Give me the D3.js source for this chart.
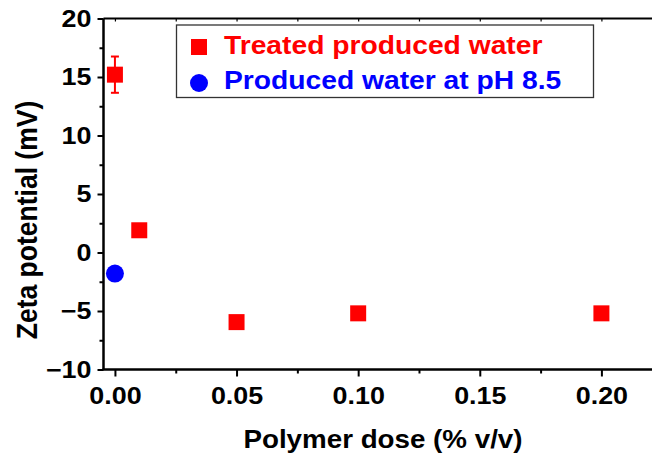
<!DOCTYPE html>
<html>
<head>
<meta charset="utf-8">
<script src="https://cdn.jsdelivr.net/npm/d3@7"></script>
<style>
  html, body { margin: 0; padding: 0; background: #fff; }
  svg { display: block; }
  text { font-family: Arial, "Liberation Sans", sans-serif; font-weight: bold; }
</style>
</head>
<body>
<svg id="chart" width="652" height="459"></svg>
<script>
// Zeta potential of treated produced water versus polymer dose
const treatedDose = [0, 0.01, 0.05, 0.10, 0.20];
const treatedZeta = [15.2, 1.9, -5.95, -5.2, -5.2];
const treatedErr  = [1.55, 0, 0, 0, 0];

const rawDose = [0];
const rawZeta = [-1.8];

const xMajorTicks = [0, 0.05, 0.10, 0.15, 0.20];
const xMinorTicks = [0.025, 0.075, 0.125, 0.175, 0.225];
const yMajorTicks = [-10, -5, 0, 5, 10, 15, 20];
const yMinorTicks = [-7.5, -2.5, 2.5, 7.5, 12.5, 17.5];

const legendLabels = ["Treated produced water", "Produced water at pH 8.5"];

const svg = d3.select("#chart");
const W = 652;

const x = d3.scaleLinear().domain([-0.0047, 0.2208]).range([103.5, 652]);
const y = d3.scaleLinear().domain([-10, 20]).range([369.5, 18.5]);

const fs = 24;      // tick label size
const wide = 1.12;  // horizontal widening of the bold lettering

// widen a text element horizontally around its anchor point (ax, ay)
function widen(sel, ax, ay, k) {
  sel.attr("transform", `translate(${ax},${ay}) scale(${k},1) translate(${-ax},${-ay})`);
}

// bottom axis: major ticks with labels
const xAxis = svg.append("g").attr("transform", `translate(0,${y(-10)})`)
  .call(d3.axisBottom(x).tickValues(xMajorTicks).tickSize(7).tickSizeOuter(0)
    .tickPadding(10).tickFormat(d3.format(".2f")));
xAxis.select(".domain").remove();
xAxis.selectAll("line").attr("stroke", "#000").attr("stroke-width", 2);
xAxis.selectAll("text").attr("fill", "#000").style("font-size", fs + "px")
  .each(function () { widen(d3.select(this), 0, 0, wide); });

// bottom axis: minor ticks
const xMinor = svg.append("g").attr("transform", `translate(0,${y(-10)})`)
  .call(d3.axisBottom(x).tickValues(xMinorTicks).tickSize(4).tickFormat(""));
xMinor.select(".domain").remove();
xMinor.selectAll("line").attr("stroke", "#000").attr("stroke-width", 2);

// top axis: ticks only, pointing into the plot
const xTop = svg.append("g").attr("transform", `translate(0,${y(20)})`)
  .call(d3.axisBottom(x).tickValues(xMajorTicks.concat(xMinorTicks)).tickSize(3).tickFormat(""));
xTop.select(".domain").remove();
xTop.selectAll("line").attr("stroke", "#000").attr("stroke-width", 1.2);

// left axis
const yAxis = svg.append("g").attr("transform", `translate(${x(-0.0047)},0)`)
  .call(d3.axisLeft(y).tickValues(yMajorTicks).tickSize(6).tickSizeOuter(0).tickPadding(6));
yAxis.select(".domain").remove();
yAxis.selectAll("line").attr("stroke", "#000").attr("stroke-width", 2);
yAxis.selectAll("text").attr("fill", "#000").style("font-size", fs + "px")
  .each(function () { widen(d3.select(this), -12, 0, wide); });

const yMinor = svg.append("g").attr("transform", `translate(${x(-0.0047)},0)`)
  .call(d3.axisLeft(y).tickValues(yMinorTicks).tickSize(4).tickFormat(""));
yMinor.select(".domain").remove();
yMinor.selectAll("line").attr("stroke", "#000").attr("stroke-width", 2);

// frame lines
svg.append("line").attr("x1", x(-0.0047)).attr("x2", W).attr("y1", y(20)).attr("y2", y(20))
  .attr("stroke", "#000").attr("stroke-width", 2);
svg.append("line").attr("x1", x(-0.0047) - 1).attr("x2", W).attr("y1", y(-10)).attr("y2", y(-10))
  .attr("stroke", "#000").attr("stroke-width", 2.5);
svg.append("line").attr("x1", x(-0.0047)).attr("x2", x(-0.0047)).attr("y1", y(20)).attr("y2", y(-10))
  .attr("stroke", "#000").attr("stroke-width", 2.5);

// axis titles
svg.append("text").attr("x", 383).attr("y", 448).attr("text-anchor", "middle")
  .style("font-size", "25px").text("Polymer dose (% v/v)")
  .call(s => widen(s, 383, 448, 1.11));
svg.append("text").attr("transform", "translate(37,220) scale(1.08,1) rotate(-90)")
  .attr("text-anchor", "middle")
  .style("font-size", "26.5px").text("Zeta potential (mV)");

const red = "#ff0000", blue = "#0000ff";
const square = d3.symbol().type(d3.symbolSquare).size(16 * 16);
const circle = d3.symbol().type(d3.symbolCircle).size(Math.PI * 9 * 9);

// error bars
const errG = svg.append("g");
treatedDose.forEach((d, i) => {
  if (!treatedErr[i]) return;
  const cx = x(d), y0 = y(treatedZeta[i] - treatedErr[i]), y1 = y(treatedZeta[i] + treatedErr[i]);
  errG.append("line").attr("x1", cx).attr("x2", cx).attr("y1", y0).attr("y2", y1)
    .attr("stroke", red).attr("stroke-width", 2);
  [y0, y1].forEach(v => errG.append("line").attr("x1", cx - 4).attr("x2", cx + 4)
    .attr("y1", v).attr("y2", v).attr("stroke", red).attr("stroke-width", 2));
});

// markers
svg.append("g").selectAll("path").data(treatedDose).join("path")
  .attr("transform", (d, i) => `translate(${x(d)},${y(treatedZeta[i])})`)
  .attr("d", square).attr("fill", red);
svg.append("g").selectAll("path").data(rawDose).join("path")
  .attr("transform", (d, i) => `translate(${x(d)},${y(rawZeta[i])})`)
  .attr("d", circle).attr("fill", blue);

// legend
const lg = svg.append("g");
lg.append("rect").attr("x", 176.5).attr("y", 25).attr("width", 417).attr("height", 72.5)
  .attr("fill", "#fff").attr("stroke", "#333").attr("stroke-width", 1.3);
lg.append("path").attr("transform", "translate(199,47)").attr("d", square).attr("fill", red);
lg.append("path").attr("transform", "translate(199,83)").attr("d", circle).attr("fill", blue);
lg.append("text").attr("x", 224).attr("y", 54).attr("fill", red).style("font-size", "25px")
  .text(legendLabels[0]).call(s => widen(s, 224, 54, 1.13));
lg.append("text").attr("x", 224).attr("y", 89).attr("fill", blue).style("font-size", "25px")
  .text(legendLabels[1]).call(s => widen(s, 224, 89, 1.13));
</script>
</body>
</html>
